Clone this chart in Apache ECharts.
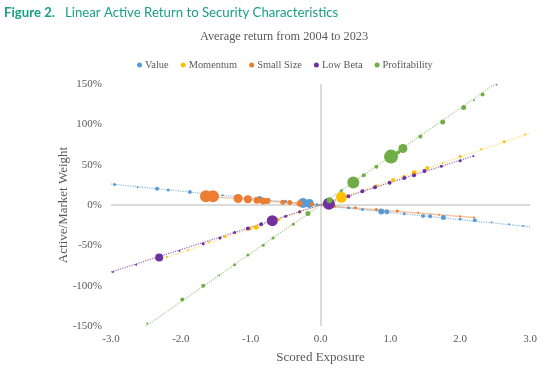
<!DOCTYPE html>
<html>
<head>
<meta charset="utf-8">
<script src="https://cdn.jsdelivr.net/npm/echarts@6/dist/echarts.min.js"></script>
<style>html,body{margin:0;padding:0;background:#fff;}#c{width:550px;height:373px;}</style>
</head>
<body>
<div id="c"></div>
<script>
// ---- data: [scored exposure, active/market weight %, bubble size] ----
const seriesNames = ['Value', 'Momentum', 'Small Size', 'Low Beta', 'Profitability'];
const xTicks = [-3, -2, -1, 0, 1, 2, 3];
const yTicks = [-150, -100, -50, 0, 50, 100, 150];

const valueData = [
  [-2.95, 25.5, 3], [-2.62, 22, 2], [-2.34, 20, 4], [-2.18, 18.5, 3], [-1.87, 16, 4],
  [-1.4, 12, 2], [-1.2, 10.5, 2], [-0.87, 8, 5], [-0.75, 6.5, 4], [-0.5, 4.5, 3],
  [-0.25, 2.5, 10], [-0.16, 2, 9], [-0.05, 0.5, 3], [0.15, -1.5, 3], [0.4, -3.5, 3],
  [0.6, -5.5, 3], [0.87, -8, 6], [0.95, -8.5, 5], [1.2, -11, 3], [1.47, -13.5, 4],
  [1.57, -14, 4], [1.76, -15.5, 5], [2.0, -17.5, 3], [2.21, -19, 4], [2.45, -21.5, 2],
  [2.7, -24, 2], [2.9, -26, 2]
];
const momentumData = [
  [-2.2, -64, 2], [-1.9, -56, 2], [-1.6, -46, 2], [-1.37, -39, 3], [-1.01, -29, 4],
  [-0.92, -27.5, 5], [-0.6, -18, 3], [-0.3, -9, 3], [0.3, 9.5, 11], [0.6, 18, 3],
  [0.8, 24, 3], [1.04, 31, 4], [1.2, 35.5, 3], [1.34, 40, 5], [1.53, 46, 4],
  [1.75, 52, 2], [2.0, 60, 3], [2.3, 69, 2], [2.63, 78.5, 3], [2.93, 87.5, 2]
];
const smallSizeData = [
  [-1.64, 10.8, 12], [-1.54, 10.8, 12], [-1.18, 8, 9], [-1.04, 7, 8], [-0.91, 6, 7],
  [-0.82, 5, 7], [-0.76, 5, 6], [-0.54, 3.5, 5], [-0.44, 3, 5], [-0.3, 2, 6],
  [-0.12, 1, 4], [0.2, -1.5, 3], [0.5, -3.5, 3], [0.8, -5.5, 3], [1.1, -7.5, 3],
  [1.4, -9.5, 2], [1.7, -12, 2], [2.0, -14, 2], [2.2, -15.5, 2]
];
const lowBetaData = [
  [-2.97, -83, 2], [-2.64, -74, 2], [-2.31, -65, 8], [-2.02, -57, 2], [-1.68, -48, 3],
  [-1.44, -41, 3], [-1.23, -34, 3], [-1.04, -29, 4], [-0.85, -24, 4], [-0.69, -19.5, 11],
  [-0.5, -14, 3], [-0.3, -8.5, 3], [0.12, 1.5, 12], [0.4, 11, 4], [0.6, 17, 4],
  [0.78, 22, 4], [0.99, 27.5, 4], [1.2, 33.5, 4], [1.34, 37, 4], [1.49, 42, 4],
  [1.73, 48, 3], [2.0, 55, 3], [2.19, 60.5, 2]
];
const profitabilityData = [
  [-2.48, -147, 2], [-1.98, -117, 4], [-1.68, -100, 4], [-1.45, -87, 2], [-1.23, -74, 3],
  [-1.04, -62, 3], [-0.82, -50, 3], [-0.68, -41, 3], [-0.39, -24, 3], [-0.18, -10.5, 5],
  [0.13, 6, 6], [0.3, 18, 3], [0.47, 28, 12], [0.62, 37, 4], [0.8, 47.5, 4],
  [1.01, 60, 14], [1.11, 65, 4], [1.18, 70, 9], [1.43, 85, 4], [1.75, 103, 5],
  [2.05, 121, 5], [2.2, 130, 2], [2.32, 137, 4], [2.52, 149, 2]
];

// linear trend lines (end points)
const valueTrend = [[-3.0, 26], [3.0, -27]];
const momentumTrend = [[-2.3, -68], [3.0, 89]];
const smallSizeTrend = [[-1.65, 11], [2.2, -15.5]];
const lowBetaTrend = [[-3.0, -83], [2.2, 61]];
const profitabilityTrend = [[-2.5, -150], [2.5, 150]];

const colors = ['#5b9bd5', '#ffc000', '#ed7d31', '#7030a0', '#70ad47'];
const serif = '"Liberation Serif", "Times New Roman", serif';
const grey = '#595959';

const pointSets = [valueData, momentumData, smallSizeData, lowBetaData, profitabilityData];
const trendSets = [valueTrend, momentumTrend, smallSizeTrend, lowBetaTrend, profitabilityTrend];
const trendStyles = [
  { type: 'dotted', width: 1.2, opacity: 0.7 },
  { type: 'dotted', width: 1.2, opacity: 0.5 },
  { type: 'solid', width: 1.5, opacity: 0.45 },
  { type: 'dotted', width: 1.2, opacity: 0.7 },
  { type: 'dotted', width: 1.2, opacity: 0.6 }
];

const series = [];
trendSets.forEach((t, i) => {
  series.push({
    name: seriesNames[i] + ' trend',
    type: 'line',
    data: t,
    symbol: 'none',
    silent: true,
    z: 1,
    lineStyle: Object.assign({ color: colors[i] }, trendStyles[i])
  });
});
pointSets.forEach((d, i) => {
  const s = {
    name: seriesNames[i],
    type: 'scatter',
    data: d,
    symbolSize: v => v[2],
    itemStyle: { color: colors[i], opacity: 1 },
    z: 3 + i
  };
  if (i === 0) {
    s.markLine = {
      silent: true,
      symbol: 'none',
      label: { show: false },
      lineStyle: { color: '#d0d0d0', type: 'solid', width: 1.5 },
      data: [{ yAxis: 0 }, { xAxis: 0 }],
      z: 0
    };
  }
  series.push(s);
});

const chart = echarts.init(document.getElementById('c'));
chart.setOption({
  animation: false,
  backgroundColor: '#fff',
  title: [
    {
      left: 4, top: 4, padding: 0,
      text: '{b|Figure 2.}  {r|Linear Active Return to Security Characteristics}',
      textStyle: {
        rich: {
          b: { fontFamily: 'Lato', fontWeight: 'bold', fontSize: 13.2, color: '#1aa085' },
          r: { fontFamily: 'Lato', fontWeight: 'normal', fontSize: 13.2, color: '#1aa085' }
        }
      }
    },
    {
      left: 200, top: 31, padding: 0,
      text: 'Average return from 2004 to 2023',
      textStyle: { fontFamily: serif, fontWeight: 'normal', fontSize: 12.3, color: grey }
    }
  ],
  legend: {
    data: seriesNames,
    left: 132, top: 55,
    icon: 'circle',
    itemWidth: 5, itemHeight: 5, itemGap: 12,
    textStyle: { fontFamily: serif, fontSize: 10.4, color: grey, padding: [0, 0, 0, -2] }
  },
  grid: { left: 111, right: 20, top: 84, bottom: 47, containLabel: false },
  xAxis: {
    type: 'value', min: -3, max: 3, interval: 1,
    name: 'Scored Exposure', nameLocation: 'middle', nameGap: 25, nameMoveOverlap: false,
    nameTextStyle: { fontFamily: serif, fontSize: 13, color: grey },
    axisLine: { show: false, onZero: false },
    axisTick: { show: false },
    splitLine: { show: false },
    axisLabel: {
      fontFamily: serif, fontSize: 11, color: grey, margin: 8,
      formatter: v => xTicks.includes(v) ? v.toFixed(1) : ''
    }
  },
  yAxis: {
    type: 'value', min: -150, max: 150, interval: 50,
    name: 'Active/Market Weight', nameLocation: 'middle', nameGap: 41, nameMoveOverlap: false,
    nameTextStyle: { fontFamily: serif, fontSize: 13, color: grey },
    axisLine: { show: false, onZero: false },
    axisTick: { show: false },
    splitLine: { show: false },
    axisLabel: {
      fontFamily: serif, fontSize: 11, color: grey, margin: 9,
      formatter: v => yTicks.includes(v) ? v + '%' : ''
    }
  },
  series: series
});
</script>
</body>
</html>
